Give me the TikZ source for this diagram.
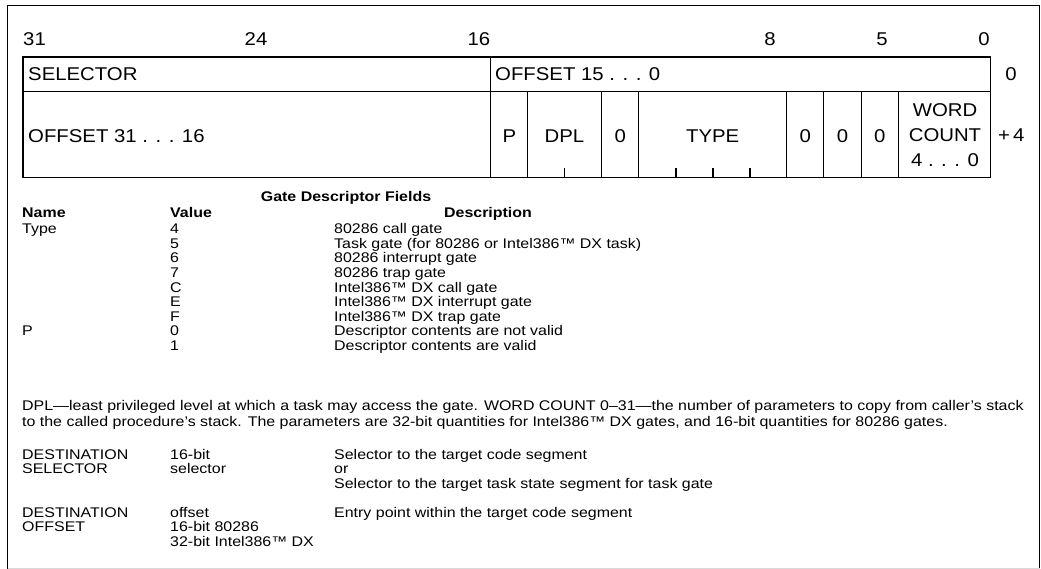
\documentclass[tikz,border=0pt]{standalone}
\usepackage{fontspec}
\setmainfont[FakeStretch=1.1]{Liberation Sans}
\newfontfamily\bodyfont[FakeStretch=1.14]{Liberation Sans}
\begin{document}
\begin{tikzpicture}[x=1pt,y=-1pt,
  frame/.style={line width=1.6pt},
  grid/.style={line width=1.3pt},
  big/.style={font=\fontsize{18.5}{22}\selectfont, inner sep=0pt, anchor=base},
  lab/.style={font=\bodyfont\fontsize{14}{16}\selectfont, inner sep=0pt, anchor=base west},
  hd/.style={font=\bodyfont\bfseries\fontsize{14}{16}\selectfont, inner sep=0pt, anchor=base west}]
\useasboundingbox (0,0) rectangle (1041,569);
% outer frame
\draw[frame] (7.5,569) -- (7.5,5.5) -- (1039.5,5.5) -- (1039.5,569);
\draw[gray!30, line width=1pt] (7.5,568) -- (1039.5,568);
% descriptor box
\draw[grid] (23,57) rectangle (990.5,177.5);
\draw[grid] (23,91.5) -- (990.5,91.5);
\draw[grid] (490.7,57) -- (490.7,177.5);
\foreach \x in {527.3,601.7,638.7,786.7,823.8,861.3,898.3}
  \draw[grid] (\x,91.5) -- (\x,177.5);
\foreach \x in {564.3,676,712.9,750}
  \draw[grid] (\x,177.5) -- (\x,168.5);
% bit numbers
\node[big, anchor=base west] (b31) at (23,45.6) {31};
\node[big] (b24) at (256,45.6) {24};
\node[big, anchor=base east] (b16) at (490.5,45.6) {16};
\node[big] (b8) at (770,45.6) {8};
\node[big] (b5) at (882,45.6) {5};
\node[big, anchor=base east] (b0) at (990,45.6) {0};
% row 1
\node[big, anchor=base west] (sel) at (28,80.6) {SELECTOR};
\node[big, anchor=base west] (offlo) at (495,80.6) {OFFSET 15 . . . 0};
\node[big] (r0) at (1011,80.6) {0};
% row 2
\node[big, anchor=base west] (offhi) at (28,142.1) {OFFSET 31 . . . 16};
\node[big] (p) at (509.5,142.1) {P};
\node[big] (dpl) at (564.5,142.1) {DPL};
\node[big] (z1) at (620.2,142.1) {0};
\node[big] (type) at (712.7,142.1) {TYPE};
\node[big] (z2) at (805.2,142.1) {0};
\node[big] (z3) at (842.5,142.1) {0};
\node[big] (z4) at (879.8,142.1) {0};
\node[big] (wc1) at (945,116.6) {WORD};
\node[big] (wc2) at (945,141.6) {COUNT};
\node[big] (wc3) at (945,166.6) {4 . . . 0};
\node[big, anchor=base west] (r4) at (998,141.6) {+\,4};
% fields table
\node[hd, anchor=base] (title) at (346,202) {Gate Descriptor Fields};
\node[hd] (hname) at (22,218) {Name};
\node[hd] (hval) at (170,218) {Value};
\node[hd, anchor=base] (hdesc) at (488,218) {Description};
\node[lab] (n1) at (22,234) {Type};
\node[lab] (v1) at (170,234) {4};
\node[lab] (d1) at (334,234) {80286 call gate};
\node[lab] (v2) at (170,248.5) {5};
\node[lab] (d2) at (334,248.5) {Task gate (for 80286 or Intel386™ DX task)};
\node[lab] (v3) at (170,263) {6};
\node[lab] (d3) at (334,263) {80286 interrupt gate};
\node[lab] (v4) at (170,277.5) {7};
\node[lab] (d4) at (334,277.5) {80286 trap gate};
\node[lab] (v5) at (170,292) {C};
\node[lab] (d5) at (334,292) {Intel386™ DX call gate};
\node[lab] (v6) at (170,306.5) {E};
\node[lab] (d6) at (334,306.5) {Intel386™ DX interrupt gate};
\node[lab] (v7) at (170,321) {F};
\node[lab] (d7) at (334,321) {Intel386™ DX trap gate};
\node[lab] (n2) at (22,335.5) {P};
\node[lab] (v8) at (170,335.5) {0};
\node[lab] (d8) at (334,335.5) {Descriptor contents are not valid};
\node[lab] (v9) at (170,350) {1};
\node[lab] (d9) at (334,350) {Descriptor contents are valid};
% paragraph
\node[lab] (par1) at (22,410) {DPL—least privileged level at which a task may access the gate. WORD COUNT 0–31—the number of parameters to copy from caller’s stack};
\node[lab] (par2) at (22,426) {to the called procedure’s stack. The parameters are 32-bit quantities for Intel386™ DX gates, and 16-bit quantities for 80286 gates.};
% destination selector
\node[lab] (ds1) at (22,459) {DESTINATION};
\node[lab] (ds2) at (22,473.5) {SELECTOR};
\node[lab] (dsv1) at (170,459) {16-bit};
\node[lab] (dsv2) at (170,473.5) {selector};
\node[lab] (dsd1) at (334,459) {Selector to the target code segment};
\node[lab] (dsd2) at (334,473.5) {or};
\node[lab] (dsd3) at (334,488) {Selector to the target task state segment for task gate};
% destination offset
\node[lab] (do1) at (22,517) {DESTINATION};
\node[lab] (do2) at (22,531.5) {OFFSET};
\node[lab] (dov1) at (170,517) {offset};
\node[lab] (dov2) at (170,531.5) {16-bit 80286};
\node[lab] (dov3) at (170,546) {32-bit Intel386™ DX};
\node[lab] (dod1) at (334,517) {Entry point within the target code segment};
\end{tikzpicture}
\end{document}
